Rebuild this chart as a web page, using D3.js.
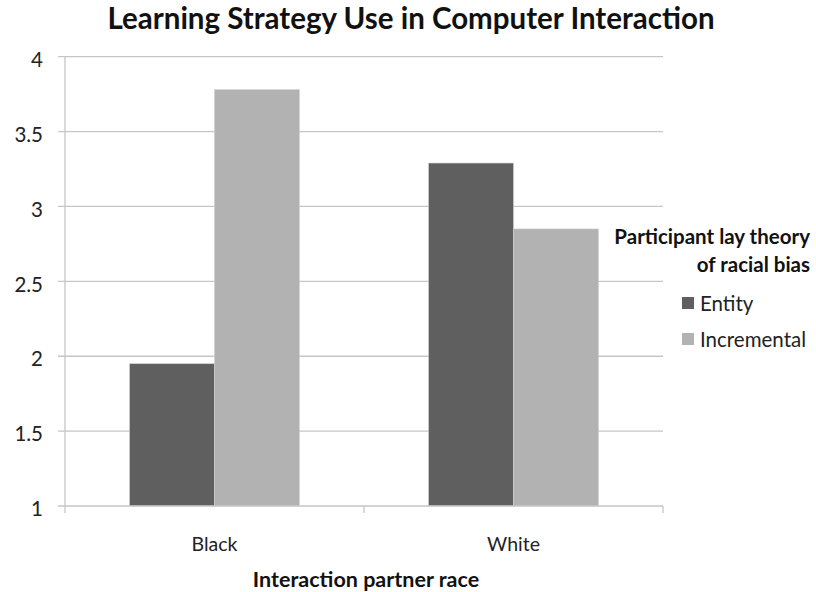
<!DOCTYPE html>
<html><head><meta charset="utf-8">
<script src="https://cdn.jsdelivr.net/npm/d3@7"></script>
<style>body{margin:0;background:#fff;} svg{display:block;} text{font-family:Lato, "Open Sans", sans-serif;}</style>
</head><body>
<svg id="c" width="816" height="592"></svg>
<script>
const categories = ["Black", "White"];
const seriesNames = ["Entity", "Incremental"];
const entityValues = [1.95, 3.29];
const incrementalValues = [3.78, 2.85];
const yTicks = [1, 1.5, 2, 2.5, 3, 3.5, 4];
const yTickLabels = ["1", "1.5", "2", "2.5", "3", "3.5", "4"];
const colors = ["#5f5f5f", "#b2b2b2"];

const svg = d3.select("#c");
const plot = {left: 65, right: 663, top: 56.7, bottom: 506};
const x = d3.scaleBand().domain(categories).range([plot.left, plot.right]);
const xs = d3.scaleBand().domain(seriesNames).range([0, x.bandwidth()]).paddingOuter(0.76).paddingInner(0);
const y = d3.scaleLinear().domain([1, 4]).range([plot.bottom, plot.top]);

// gridlines
svg.append("g").selectAll("line").data(yTicks.slice(1)).join("line")
  .attr("x1", plot.left - 7).attr("x2", plot.right)
  .attr("y1", d => y(d)).attr("y2", d => y(d))
  .attr("stroke", "#c6c6c6").attr("stroke-width", 1.3);

// bars
const data = categories.map((c, i) => ({cat: c, vals: [entityValues[i], incrementalValues[i]]}));
const g = svg.append("g").selectAll("g").data(data).join("g")
  .attr("transform", d => `translate(${x(d.cat)},0)`);
g.selectAll("rect").data(d => d.vals.map((v, j) => ({s: seriesNames[j], v, j}))).join("rect")
  .attr("x", d => xs(d.s)).attr("width", xs.bandwidth())
  .attr("y", d => y(d.v)).attr("height", d => y(1) - y(d.v))
  .attr("fill", d => colors[d.j]).attr("stroke", "#d0d0d0").attr("stroke-width", 0.6);

// y axis line
svg.append("line").attr("x1", plot.left).attr("x2", plot.left).attr("y1", plot.top).attr("y2", plot.bottom)
  .attr("stroke", "#c6c6c6").attr("stroke-width", 1.3);
// x axis
svg.append("line").attr("x1", plot.left - 7).attr("x2", plot.right).attr("y1", plot.bottom).attr("y2", plot.bottom)
  .attr("stroke", "#c6c6c6").attr("stroke-width", 1.3);
const xTickPos = [plot.left, x("White"), plot.right];
svg.append("g").selectAll("line").data(xTickPos).join("line")
  .attr("x1", d => d).attr("x2", d => d).attr("y1", plot.bottom).attr("y2", plot.bottom + 7)
  .attr("stroke", "#c6c6c6").attr("stroke-width", 1.3);

// y tick labels
svg.append("g").selectAll("text").data(yTicks).join("text")
  .attr("x", 43).attr("y", d => y(d)).attr("dy", "0.5em")
  .attr("text-anchor", "end").attr("font-size", 20.5).attr("fill", "#222")
  .text((d, i) => yTickLabels[i]);

// category labels
svg.append("g").selectAll("text").data(categories).join("text")
  .attr("x", d => x(d) + x.bandwidth() / 2).attr("y", 551)
  .attr("text-anchor", "middle").attr("font-size", 19.5).attr("fill", "#222")
  .text(d => d);

// axis title
svg.append("text").attr("x", (plot.left + plot.right) / 2 + 2).attr("y", 587)
  .attr("text-anchor", "middle").attr("font-size", 21.5).attr("font-weight", "bold").attr("fill", "#111")
  .text("Interaction partner race");

// title
svg.append("text").attr("x", 411).attr("y", 29)
  .attr("text-anchor", "middle").attr("font-size", 29.5).attr("font-weight", "bold").attr("fill", "#111")
  .text("Learning Strategy Use in Computer Interaction");

// legend
const legTitle = ["Participant lay theory", "of racial bias"];
svg.append("g").selectAll("text").data(legTitle).join("text")
  .attr("x", 810).attr("y", (d, i) => 244 + i * 28)
  .attr("text-anchor", "end").attr("font-size", 20.5).attr("font-weight", "bold").attr("fill", "#111")
  .text(d => d);
const leg = svg.append("g").selectAll("g").data(seriesNames).join("g")
  .attr("transform", (d, i) => `translate(682,${297 + i * 36})`);
leg.append("rect").attr("width", 12).attr("height", 12).attr("fill", (d, i) => colors[i]);
leg.append("text").attr("x", 18).attr("y", 6).attr("dy", "0.4em")
  .attr("font-size", 20.5).attr("fill", "#222").text(d => d);
</script>
</body></html>
